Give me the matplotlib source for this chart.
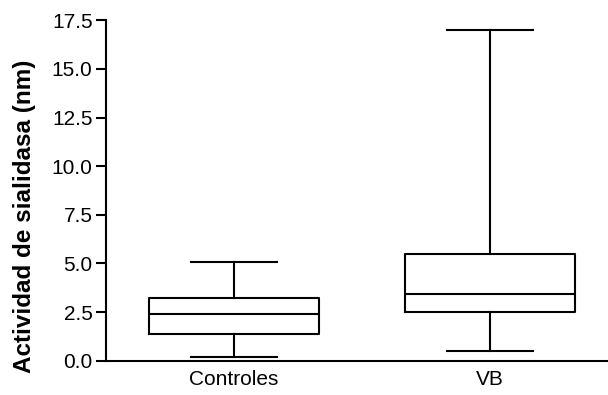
import matplotlib
matplotlib.use("Agg")
import matplotlib.pyplot as plt

plt.rcParams['font.family'] = ['Liberation Sans', 'DejaVu Sans']

groups = ['Controles', 'VB']
whisker_low = [0.21, 0.51]
q1 = [1.35, 2.52]
medians = [2.40, 3.43]
q3 = [3.20, 5.50]
whisker_high = [5.08, 17.02]
yticks = [0, 2.5, 5, 7.5, 10, 12.5, 15, 17.5]

stats = []
for i, name in enumerate(groups):
    stats.append({
        'label': name,
        'whislo': whisker_low[i],
        'q1': q1[i],
        'med': medians[i],
        'q3': q3[i],
        'whishi': whisker_high[i],
    })

fig = plt.figure(figsize=(6.08, 3.95), dpi=100)
ax = fig.add_axes([0.1750, 0.0868, 0.825, 0.862])

lw = 1.5
ax.bxp(stats, positions=[1, 2], widths=0.664, showfliers=False,
       boxprops=dict(color='black', linewidth=lw),
       medianprops=dict(color='black', linewidth=lw),
       whiskerprops=dict(color='black', linewidth=lw),
       capprops=dict(color='black', linewidth=lw),
       capwidths=0.336)

ax.set_xlim(0.503, 2.46)
ax.set_ylim(0, 17.5)
ax.set_yticks(yticks)
ax.set_yticklabels([f"{v:.1f}" for v in yticks])

for s in ['top', 'right']:
    ax.spines[s].set_visible(False)
for s in ['left', 'bottom']:
    ax.spines[s].set_linewidth(lw)

ax.tick_params(axis='y', length=7, width=lw, labelsize=15, pad=3)
ax.tick_params(axis='x', length=0, labelsize=15, pad=7)
ax.set_ylabel('Actividad de sialidasa (nm)', fontsize=17.5, fontweight='bold')
ax.yaxis.set_label_coords(-0.14, 0.423)

fig.savefig('out.png', dpi=100)
